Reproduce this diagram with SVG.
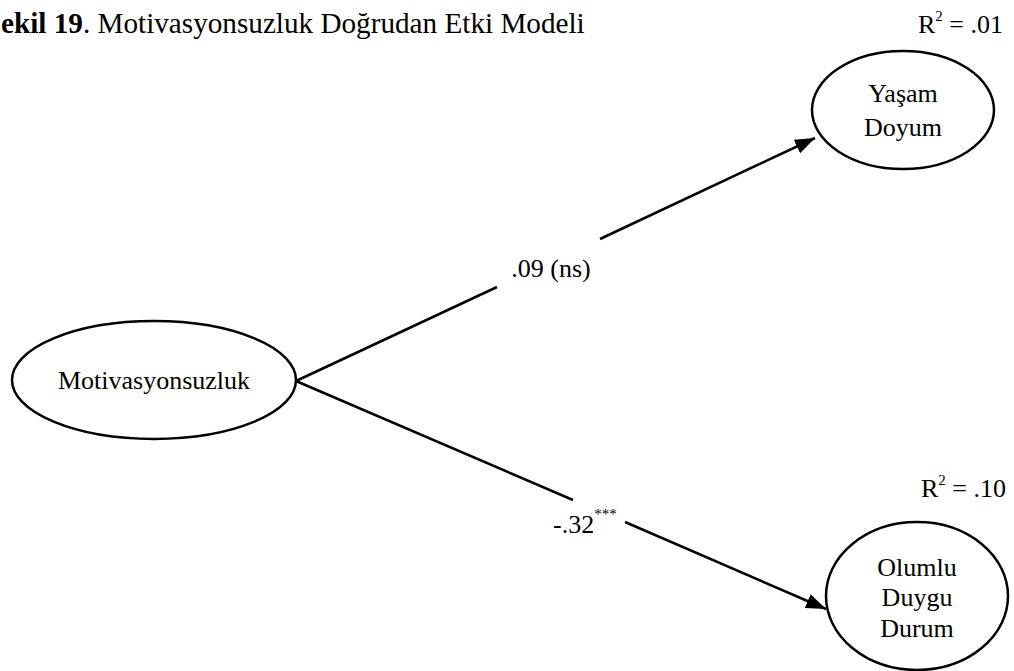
<svg xmlns="http://www.w3.org/2000/svg" width="1014" height="671" viewBox="0 0 1014 671">
  <style>
    .txt { font-family: "Liberation Serif", "Times New Roman", serif; font-size: 26px; fill: #000; }
    .title { font-family: "Liberation Serif", "Times New Roman", serif; font-size: 29.2px; fill: #000; }
    .node { fill: #fff; stroke: #000; stroke-width: 2.5; }
    .edge { fill: none; stroke: #000; stroke-width: 2.5; }
    .sup { font-size: 15px; }
  </style>
  <defs>
    <marker id="arrow" markerWidth="8" markerHeight="6" refX="8" refY="3" orient="auto" markerUnits="strokeWidth">
      <path d="M0,0 L8,3 L0,6 Z" fill="#000"/>
    </marker>
  </defs>
  <rect width="1014" height="671" fill="#fff"/>

  <!-- caption -->
  <text class="title" x="1" y="33"><tspan font-weight="bold">ekil 19</tspan>. Motivasyonsuzluk Doğrudan Etki Modeli</text>

  <!-- connectors -->
  <g id="connectors">
    <line class="edge" x1="296" y1="381" x2="497" y2="287"/>
    <line class="edge" x1="600" y1="239" x2="815" y2="138" marker-end="url(#arrow)"/>
    <line class="edge" x1="296" y1="381" x2="573" y2="500"/>
    <line class="edge" x1="625" y1="522" x2="826" y2="609" marker-end="url(#arrow)"/>
    <text class="txt" x="551" y="277" text-anchor="middle">.09 (ns)</text>
    <text class="txt" x="553" y="533">-.32<tspan class="sup" dy="-14">***</tspan></text>
  </g>

  <g id="motivasyonsuzluk">
    <ellipse class="node" cx="154" cy="380" rx="142" ry="59"/>
    <text class="txt" x="154" y="389" text-anchor="middle">Motivasyonsuzluk</text>
  </g>

  <g id="yasam-doyum">
    <ellipse class="node" cx="903" cy="110" rx="91" ry="59"/>
    <text class="txt" x="903" y="102" text-anchor="middle">Yaşam</text>
    <text class="txt" x="903" y="136" text-anchor="middle">Doyum</text>
    <text class="txt" x="918" y="33">R<tspan class="sup" dy="-12">2</tspan><tspan dy="12"> = .01</tspan></text>
  </g>

  <g id="olumlu-duygu-durum">
    <ellipse class="node" cx="917" cy="596" rx="91" ry="74"/>
    <text class="txt" x="917" y="576" text-anchor="middle">Olumlu</text>
    <text class="txt" x="917" y="606" text-anchor="middle">Duygu</text>
    <text class="txt" x="917" y="637" text-anchor="middle">Durum</text>
    <text class="txt" x="921" y="497">R<tspan class="sup" dy="-12">2</tspan><tspan dy="12"> = .10</tspan></text>
  </g>
</svg>
